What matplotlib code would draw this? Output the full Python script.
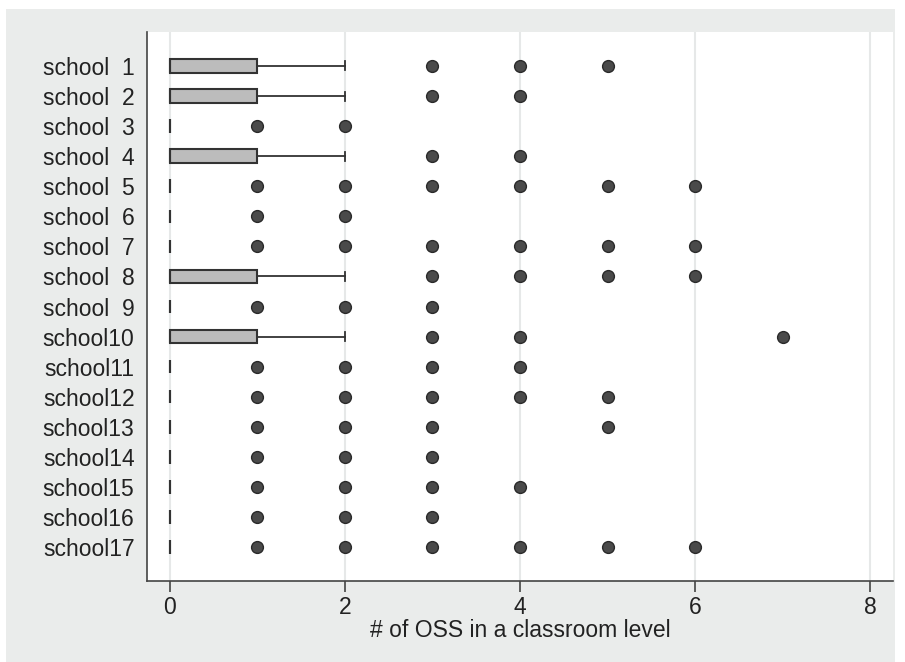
import matplotlib.pyplot as plt
from matplotlib.patches import Rectangle

plt.rcParams['font.family'] = ['Liberation Sans', 'DejaVu Sans']

# one entry per school: lower quartile, median, upper quartile, upper whisker
schools = ["school  %d" % i if i < 10 else "school%d" % i for i in range(1, 18)]
q1 = [0] * 17
med = [0] * 17
q3 = [1, 1, 0, 1, 0, 0, 0, 1, 0, 1, 0, 0, 0, 0, 0, 0, 0]
whishi = [2, 2, 0, 2, 0, 0, 0, 2, 0, 2, 0, 0, 0, 0, 0, 0, 0]
outliers = [
    [3, 4, 5],
    [3, 4],
    [1, 2],
    [3, 4],
    [1, 2, 3, 4, 5, 6],
    [1, 2],
    [1, 2, 3, 4, 5, 6],
    [3, 4, 5, 6],
    [1, 2, 3],
    [3, 4, 7],
    [1, 2, 3, 4],
    [1, 2, 3, 4, 5],
    [1, 2, 3, 5],
    [1, 2, 3],
    [1, 2, 3, 4],
    [1, 2, 3],
    [1, 2, 3, 4, 5, 6],
]

fig = plt.figure(figsize=(9.05, 6.62), dpi=100)
fig.patch.set_facecolor('white')
fig.patches.append(Rectangle((6 / 905, 0), 889 / 905, 653 / 662, transform=fig.transFigure,
                             facecolor='#eaeceb', edgecolor='none', zorder=-10))

ax = fig.add_axes([147 / 905, 81 / 662, 746 / 905, 549 / 662])
ax.set_facecolor('white')

stats = []
for i in range(len(schools)):
    stats.append(dict(q1=q1[i], med=med[i], q3=q3[i], whislo=q1[i], whishi=whishi[i],
                      fliers=outliers[i], label=schools[i]))

pos = list(range(1, 18))
ax.bxp(stats, positions=pos, orientation='horizontal', widths=0.45, patch_artist=True,
       showcaps=True,
       boxprops=dict(facecolor='#bcbcbc', edgecolor='#333333', linewidth=1.5),
       medianprops=dict(color='#333333', linewidth=1.5),
       whiskerprops=dict(color='#333333', linewidth=1.3),
       capprops=dict(color='#333333', linewidth=1.3),
       flierprops=dict(marker='o', markerfacecolor='#4a4a4a', markeredgecolor='#2a2a2a',
                       markersize=8.5, markeredgewidth=1.0),
       capwidths=0.3)

ax.set_xlim(-0.26, 8.26)
ax.set_ylim(18.13, -0.13)
ax.set_xticks([0, 2, 4, 6, 8])
ax.set_yticks(pos)
ax.set_yticklabels(schools)
ax.xaxis.grid(True, color='#e6e8e8', linewidth=1.5)
ax.set_axisbelow(True)

for s in ['top', 'right']:
    ax.spines[s].set_visible(False)
for s in ['left', 'bottom']:
    ax.spines[s].set_color('#444444')
    ax.spines[s].set_linewidth(1.2)

ax.tick_params(axis='x', length=8, width=1.2, color='#444444', labelsize=16.5, pad=3,
               labelcolor='#222222')
ax.tick_params(axis='y', length=0, labelsize=16.5, pad=9, labelcolor='#222222')
ax.set_xlabel("# of OSS in a classroom level", fontsize=16.5, labelpad=0, color='#222222')

plt.savefig("out.png", dpi=100)
